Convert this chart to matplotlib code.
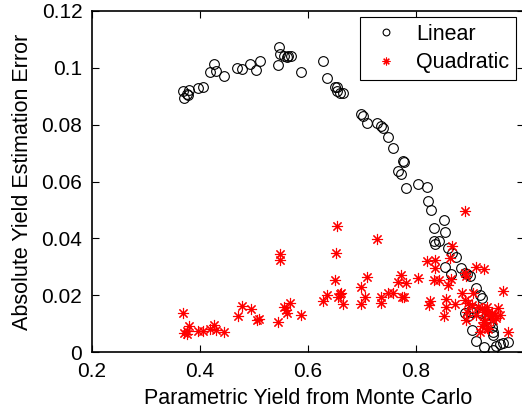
import matplotlib
matplotlib.use('Agg')
import matplotlib.pyplot as plt

plt.rcParams['font.family'] = ['Liberation Sans', 'DejaVu Sans']

# linear model error vs parametric yield
linear_x = [0.368, 0.371, 0.375, 0.380, 0.378, 0.397, 0.405, 0.419, 0.426, 0.430,
            0.444, 0.469, 0.477, 0.493, 0.504, 0.511, 0.544, 0.547, 0.549, 0.556,
            0.561, 0.568, 0.563, 0.587, 0.628, 0.636, 0.650, 0.654, 0.653, 0.659,
            0.664, 0.698, 0.702, 0.710, 0.727, 0.736, 0.738, 0.749, 0.757, 0.775,
            0.778, 0.767, 0.772, 0.781, 0.804, 0.820, 0.823, 0.827, 0.852, 0.833,
            0.854, 0.833, 0.835, 0.843, 0.859, 0.866, 0.874, 0.854, 0.864, 0.883,
            0.891, 0.894, 0.900, 0.912, 0.919, 0.922, 0.891, 0.896, 0.906, 0.902,
            0.922, 0.931, 0.903, 0.912, 0.925, 0.940, 0.943, 0.942, 0.942, 0.949,
            0.956, 0.962, 0.971, 0.933, 0.937]
linear_y = [0.0919, 0.0893, 0.0907, 0.0922, 0.0904, 0.0928, 0.0934, 0.0986, 0.1012, 0.0989,
            0.0971, 0.1001, 0.0995, 0.1015, 0.0992, 0.1023, 0.1011, 0.1072, 0.1048, 0.1040,
            0.1037, 0.1042, 0.1041, 0.0986, 0.1023, 0.0963, 0.0931, 0.0934, 0.0919, 0.0913,
            0.0913, 0.0838, 0.0831, 0.0807, 0.0805, 0.0795, 0.0787, 0.0756, 0.0719, 0.0672,
            0.0670, 0.0636, 0.0625, 0.0578, 0.0590, 0.0581, 0.0531, 0.0501, 0.0466, 0.0437,
            0.0423, 0.0392, 0.0380, 0.0392, 0.0366, 0.0348, 0.0333, 0.0299, 0.0275, 0.0295,
            0.0278, 0.0274, 0.0266, 0.0225, 0.0201, 0.0190, 0.0137, 0.0125, 0.0154, 0.0141,
            0.0137, 0.0131, 0.0078, 0.0039, 0.0019, 0.0089, 0.0072, 0.0060, 0.0007, 0.0022,
            0.0027, 0.0031, 0.0036, 0.0120, 0.0102]

# quadratic model error vs parametric yield
quad_x = [0.369, 0.370, 0.375, 0.376, 0.380, 0.397, 0.405, 0.419, 0.426, 0.430,
          0.444, 0.471, 0.477, 0.494, 0.505, 0.510, 0.544, 0.548, 0.548, 0.556,
          0.559, 0.561, 0.567, 0.587, 0.628, 0.636, 0.653, 0.652, 0.650, 0.656,
          0.659, 0.662, 0.665, 0.699, 0.706, 0.698, 0.710, 0.727, 0.736, 0.736,
          0.749, 0.757, 0.767, 0.772, 0.781, 0.774, 0.778, 0.804, 0.820, 0.826,
          0.824, 0.833, 0.843, 0.835, 0.835, 0.852, 0.855, 0.855, 0.860, 0.864,
          0.866, 0.863, 0.873, 0.885, 0.891, 0.891, 0.892, 0.912, 0.925, 0.891,
          0.894, 0.892, 0.897, 0.903, 0.906, 0.912, 0.915, 0.919, 0.922, 0.922,
          0.925, 0.928, 0.931, 0.934, 0.937, 0.940, 0.943, 0.946, 0.949, 0.952,
          0.956, 0.961, 0.971, 0.931, 0.934, 0.925]
quad_y = [0.0137, 0.0066, 0.0064, 0.0075, 0.0092, 0.0075, 0.0075, 0.0080, 0.0095, 0.0078,
          0.0072, 0.0125, 0.0163, 0.0152, 0.0113, 0.0115, 0.0107, 0.0346, 0.0325, 0.0160,
          0.0148, 0.0139, 0.0174, 0.0131, 0.0181, 0.0201, 0.0442, 0.0350, 0.0254, 0.0195,
          0.0205, 0.0209, 0.0169, 0.0230, 0.0195, 0.0169, 0.0264, 0.0398, 0.0192, 0.0172,
          0.0209, 0.0209, 0.0245, 0.0272, 0.0242, 0.0195, 0.0193, 0.0260, 0.0319, 0.0181,
          0.0166, 0.0254, 0.0254, 0.0325, 0.0295, 0.0125, 0.0160, 0.0187, 0.0237, 0.0257,
          0.0372, 0.0331, 0.0169, 0.0209, 0.0495, 0.0278, 0.0266, 0.0299, 0.0292, 0.0184,
          0.0141, 0.0113, 0.0172, 0.0166, 0.0209, 0.0131, 0.0160, 0.0072, 0.0092, 0.0154,
          0.0141, 0.0113, 0.0160, 0.0141, 0.0125, 0.0137, 0.0113, 0.0131, 0.0119, 0.0154,
          0.0131, 0.0213, 0.0072, 0.0085, 0.0081, 0.0107]

fig = plt.figure(figsize=(5.22, 4.12), dpi=100)
ax = fig.add_axes([92 / 522, 1 - 352 / 412, 432 / 522, 341 / 412])

ax.plot(linear_x, linear_y, linestyle='', marker='o', markersize=7,
        markerfacecolor='none', markeredgecolor='black', markeredgewidth=0.8, label='Linear')
ax.plot(quad_x, quad_y, linestyle='', marker=(8, 2, 0), markersize=8,
        markeredgecolor='red', markeredgewidth=0.8, label='Quadratic')

ax.set_xlim(0.2, 1.0)
ax.set_ylim(0, 0.12)
ax.set_xticks([0.2, 0.4, 0.6, 0.8, 1.0])
ax.set_xticklabels(['0.2', '0.4', '0.6', '0.8', ''])  # "1" falls outside the saved image
ax.set_yticks([0, 0.02, 0.04, 0.06, 0.08, 0.1, 0.12])
ax.set_yticklabels(['0', '0.02', '0.04', '0.06', '0.08', '0.1', '0.12'])
ax.tick_params(direction='in', length=5, width=0.8, top=True, right=True, labelsize=15, pad=7)
for s in ax.spines.values():
    s.set_linewidth(1.2)

ax.set_xlabel('Parametric Yield from Monte Carlo', fontsize=15.5, labelpad=5)
ax.set_ylabel('Absolute Yield Estimation Error', fontsize=15.5, labelpad=6)

leg = ax.legend(loc='upper right', bbox_to_anchor=(0.9815, 0.982), borderaxespad=0,
                fontsize=15.5, fancybox=False, edgecolor='black', framealpha=1,
                borderpad=0.3, handletextpad=0.5, labelspacing=0.35, handlelength=1.8,
                markerscale=0.7)
leg.get_frame().set_linewidth(0.8)

fig.savefig('out.png', dpi=100)
